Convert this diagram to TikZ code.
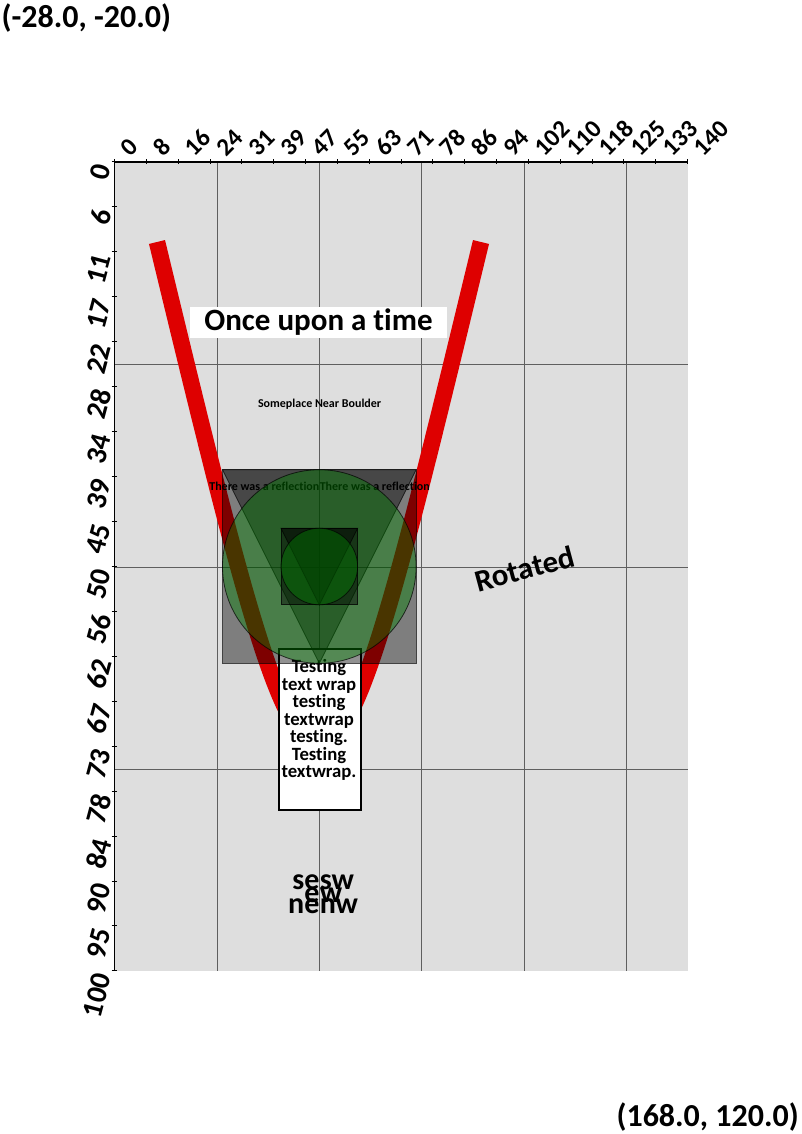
\documentclass[tikz,border=0pt]{standalone}
\usepackage{fontspec}
\setmainfont{Carlito}[Ligatures={NoCommon}]
\definecolor{bggray}{RGB}{222,222,222}
\definecolor{gridgray}{RGB}{95,95,95}
\definecolor{redline}{RGB}{222,0,0}
\definecolor{greenfill}{RGB}{0,128,0}
\begin{document}
\begin{tikzpicture}[x=1pt,y=-1pt,
  toplbl/.style={inner sep=0pt, anchor=west, rotate=45, font=\bfseries\fontsize{25}{29}\selectfont},
  leftlbl/.style={inner sep=0pt, anchor=east, rotate=75, font=\bfseries\fontsize{29}{34}\selectfont},
  gridline/.style={draw=gridgray, line width=1pt},
  axisline/.style={draw=black, line width=1.5pt},
  tickmark/.style={draw=black, line width=1pt},
  shade/.style={fill=black, fill opacity=0.43, draw=black, draw opacity=0.7, line width=0.8pt},
  greenc/.style={fill=greenfill, fill opacity=0.42, draw=black, draw opacity=0.7, line width=0.8pt},
  bigbold/.style={inner sep=0pt, font=\bfseries\fontsize{31}{37}\selectfont},
  compass/.style={inner sep=0pt, font=\bfseries\fontsize{30}{36}\selectfont},
  corner/.style={inner sep=0pt, font=\bfseries\fontsize{32}{38}\selectfont}]
\useasboundingbox (0,0) rectangle (802,1134);

% plot area
\fill[bggray] (114.6,162) rectangle (687.5,971);
% grid
\foreach \gx in {217.3,319.6,421.9,524.2,626.5}
  \draw[gridline] (\gx,162) -- (\gx,971);
\foreach \gy in {364.5,567,769.5}
  \draw[gridline] (114.6,\gy) -- (687.5,\gy);

% axes
\coordinate (xa0) at (114.6,162);
\coordinate (xa1) at (687.5,162);
\coordinate (ya1) at (114.6,971);
\draw[axisline] (xa0) -- (xa1);
\draw[axisline] (xa0) -- (ya1);
\foreach \v [count=\k from 0] in {0,8,16,24,31,39,47,55,63,71,78,86,94,102,110,118,125,133,140}{
  \draw[tickmark] (114.6+\k*31.83,159.3) -- (114.6+\k*31.83,164.5);
  \node[toplbl] (tl\k) at (114.6+\k*31.83+10.5,152) {\v};
}
\foreach \v [count=\k from 0] in {0,6,11,17,22,28,34,39,45,50,56,62,67,73,78,84,90,95,100}{
  \draw[tickmark] (111.7,162+\k*44.94) -- (117.3,162+\k*44.94);
  \node[leftlbl] (ll\k) at (102.6,162+\k*44.94+3) {\v};
}

% red curve
\coordinate (rc0) at (157,242);
\coordinate (rc1) at (319,912);
\coordinate (rc2) at (481,242);
\draw[redline, line width=16.5pt] (rc0) .. controls (rc1) and (rc1) .. (rc2);

% text box
\node[draw=black, line width=2pt, fill=white, minimum width=82, minimum height=161, inner sep=0pt, anchor=north west] (tbox) at (278,648) {};
\node[inner sep=0pt, anchor=north, align=center, font=\bfseries\fontsize{18.7}{17.5}\selectfont] (ttext) at (319,659.5)
  {Testing\\text wrap\\testing\\textwrap\\testing.\\Testing\\textwrap.};

% titles
\node[bigbold, fill=white, minimum width=257, minimum height=31] (once) at (318.5,322.5) {Once upon a time};
\node[inner sep=0pt, font=\bfseries\fontsize{12}{14}\selectfont] (place) at (319.6,404) {Someplace Near Boulder};

% big group
\coordinate (bc) at (319.3,566.5);
\draw[shade] (222.5,469.7) rectangle (416.1,663.3);
\draw[shade] (222.5,469.7) -- (416.1,469.7) -- (319.3,663.3) -- cycle;
\node[inner sep=0pt, anchor=east, font=\bfseries\fontsize{12}{14}\selectfont] (refl1) at (319.6,486) {There was a reflection};
\node[inner sep=0pt, anchor=west, font=\bfseries\fontsize{12}{14}\selectfont] (refl2) at (319.6,486) {There was a reflection};
\draw[greenc] (bc) circle[radius=96.8];

% small group
\draw[shade] (281.0,528.2) rectangle (357.6,604.8);
\draw[shade] (281.0,528.2) -- (357.6,528.2) -- (319.3,604.8) -- cycle;
\draw[greenc] (bc) circle[radius=38.3];

% rotated text
\node[bigbold, rotate=15] (rot) at (524.5,568.5) {Rotated};

% compass labels
\node[compass, anchor=base east] (lse) at (319.6,889) {se};
\node[compass, anchor=base west] (lsw) at (319.6,889) {sw};
\node[compass, anchor=base east] (le) at (319.6,902) {e};
\node[compass, anchor=base west] (lw) at (319.6,902) {w};
\node[compass, anchor=base east] (lne) at (319.6,913) {ne};
\node[compass, anchor=base west] (lnw) at (319.6,913) {nw};

% corner labels
\node[corner, anchor=base west] (cTL) at (1.5,28) {(-28.0, -20.0)};
\node[corner, anchor=base east] (cBR) at (799,1126) {(168.0, 120.0)};
\end{tikzpicture}
\end{document}
